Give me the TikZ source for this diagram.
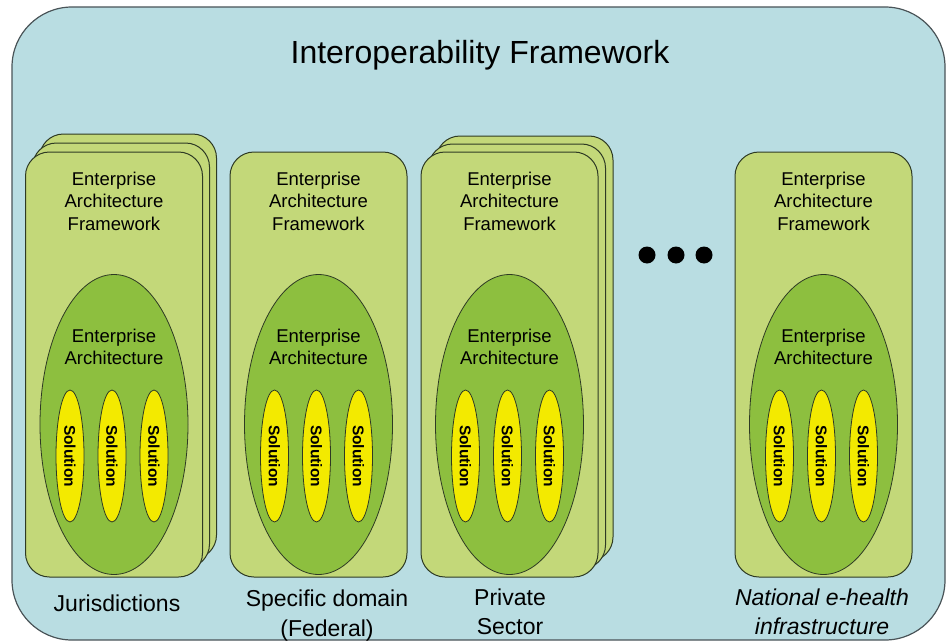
\documentclass[tikz,border=0pt]{standalone}
\usepackage{fontspec}
\setmainfont{Liberation Sans}
\usetikzlibrary{shapes.geometric}
\definecolor{bgC}{HTML}{B9DDE2}
\definecolor{panelC}{HTML}{C3D879}
\definecolor{eaC}{HTML}{8DBF3F}
\definecolor{solC}{HTML}{F3EA00}
\definecolor{lineC}{HTML}{2E3A24}
\definecolor{frameC}{HTML}{4A5458}
\begin{document}
\begin{tikzpicture}[x=1pt,y=-1pt,
  outerbox/.style={draw=frameC, line width=1.2pt, fill=bgC, rounded corners=60pt, minimum width=933pt, minimum height=633pt, inner sep=0},
  panel/.style={draw=lineC, line width=1pt, fill=panelC, rounded corners=24pt, minimum width=177pt, minimum height=425pt, inner sep=0},
  eaell/.style={ellipse, draw=lineC, line width=0.8pt, fill=eaC, minimum width=148pt, minimum height=300pt, inner sep=0},
  sol/.style={ellipse, draw=lineC, line width=0.8pt, fill=solC, minimum width=28pt, minimum height=132pt, inner sep=0},
  soltext/.style={rotate=-90, inner sep=0, font=\fontsize{15.5}{18}\selectfont\bfseries},
  fwtext/.style={align=center, inner sep=0, font=\fontsize{18.5}{22.5}\selectfont},
  lbl/.style={align=center, inner sep=0, font=\fontsize{23}{29.5}\selectfont},
  dotn/.style={circle, fill=black, minimum size=17pt, inner sep=0},
  titletext/.style={inner sep=0, font=\fontsize{32}{36}\selectfont}]
\useasboundingbox (0,0) rectangle (947,642);
\node[outerbox] (frame) at (478.5,323.5) {};
\node[titletext] (title) at (480,55) {Interoperability Framework};
% shadow stacks
\node[panel] (p1c) at (128,346.5) {};
\node[panel] (p1b) at (121,355.5) {};
\node[panel] (p3c) at (524.5,348.5) {};
\node[panel] (p3b) at (517,356.5) {};
% panels
\foreach \i/\cx in {1/114, 2/318.5, 3/509.5, 4/823.5} {
  \node[panel] (p\i) at (\cx,364.5) {};
  \node[fwtext] (fw\i) at (\cx,201) {Enterprise\\Architecture\\Framework};
  \node[eaell] (ea\i) at (\cx,424.5) {};
  \node[fwtext] (eat\i) at (\cx,347) {Enterprise\\Architecture};
  \foreach \j/\dx in {1/-44, 2/-2, 3/40} {
    \node[sol] (s\i\j) at (\cx+\dx,456) {};
    \node[soltext] (st\i\j) at (s\i\j) {Solution};
  }
}
% dots
\node[dotn] (d1) at (647,255) {};
\node[dotn] (d2) at (676,255) {};
\node[dotn] (d3) at (704,255) {};
% labels
\node[lbl] (l1) at (117,603) {Jurisdictions};
\node[lbl] (l2) at (327,615.5) {Specific domain\\(Federal)};
\node[lbl] (l3) at (510,612) {Private\\Sector};
\node[lbl, font=\fontsize{23}{29.5}\selectfont\itshape] (l4) at (822,612) {National e-health\\infrastructure};
\end{tikzpicture}
\end{document}
